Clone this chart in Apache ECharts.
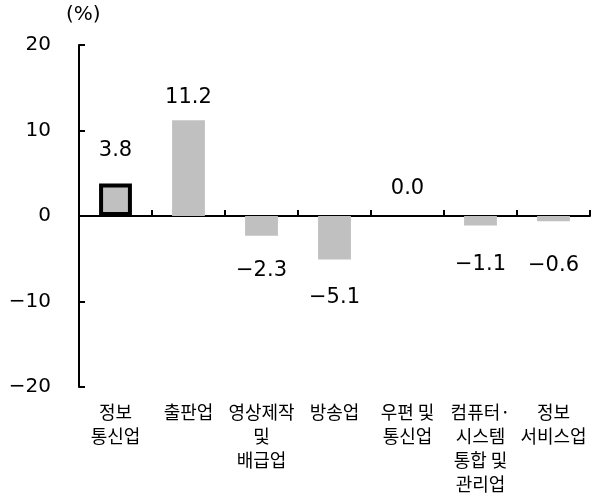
<!DOCTYPE html>
<html>
<head>
<meta charset="utf-8">
<script src="https://cdn.jsdelivr.net/npm/echarts@6/dist/echarts.min.js"></script>
<style>
  html, body { margin: 0; padding: 0; background: #fff; }
  #main { width: 598px; height: 496px; }
</style>
</head>
<body>
<div id="main"></div>
<script>
// 정보통신업 세부 업종별 증감률 (%)
const categories = ["정보\n통신업", "출판업", "영상제작\n및\n배급업", "방송업", "우편 및\n통신업", "컴퓨터·\n시스템\n통합 및\n관리업", "정보\n서비스업"];
const values = [3.8, 11.2, -2.3, -5.1, 0.0, -1.1, -0.6];
const yTicks = [-20, -10, 0, 10, 20];

// 라벨 간격 (원본 위치에 맞춤)
const labelGap = [22, 12, 24, 27, 17, 29, 34];

const FONT = "'Noto Sans CJK KR', 'Noto Sans', sans-serif";
const NUMFONT = "'DejaVu Sans', sans-serif";
const fmtNum = (v) => String(v).replace("-", "−");

const barData = values.map((v, i) => {
  let item = {
    value: v,
    label: {
      position: v < 0 ? "bottom" : "top",
      distance: labelGap[i],
    },
  };
  if (i === 0) {
    item.itemStyle = { color: "#c0c0c0", borderColor: "#000", borderWidth: 4 };
  }
  return item;
});

const chart = echarts.init(document.getElementById("main"));
const option = {
  backgroundColor: "#fff",
  animation: false,
  grid: { left: 79, right: 8, top: 45, bottom: 107, containLabel: false },
  graphic: [
    {
      type: "text",
      left: 66,
      top: 5,
      style: { text: "(%)", fontSize: 20, fontFamily: NUMFONT, fill: "#000" },
    },
  ],
  xAxis: [
    {
      type: "category",
      data: categories,
      position: "bottom",
      axisLine: { show: false, onZero: false },
      axisTick: { show: false },
      axisLabel: {
        interval: 0,
        margin: 13,
        fontSize: 18,
        lineHeight: 24,
        color: "#000",
        fontFamily: FONT,
      },
    },
    {
      type: "category",
      data: categories,
      position: "bottom",
      axisLine: { show: true, onZero: true, lineStyle: { color: "#000", width: 2 } },
      axisTick: { show: true, inside: true, length: 6, lineStyle: { color: "#000", width: 2 } },
      axisLabel: { show: false },
    },
  ],
  yAxis: {
    type: "value",
    min: yTicks[0],
    max: yTicks[yTicks.length - 1],
    interval: 10,
    axisLine: { show: true, lineStyle: { color: "#000", width: 2 } },
    axisTick: { show: true, inside: true, length: 6, lineStyle: { color: "#000", width: 2 } },
    splitLine: { show: false },
    axisLabel: {
      margin: 28,
      fontSize: 20,
      color: "#000",
      fontFamily: NUMFONT,
      formatter: (v) => fmtNum(v),
    },
  },
  series: [
    {
      type: "bar",
      xAxisIndex: 0,
      data: barData,
      barWidth: "45%",
      itemStyle: { color: "#c0c0c0" },
      label: {
        show: true,
        fontSize: 21,
        color: "#000",
        fontFamily: NUMFONT,
        formatter: (p) => fmtNum(p.value.toFixed(1)),
      },
    },
  ],
};
chart.setOption(option);
</script>
</body>
</html>
